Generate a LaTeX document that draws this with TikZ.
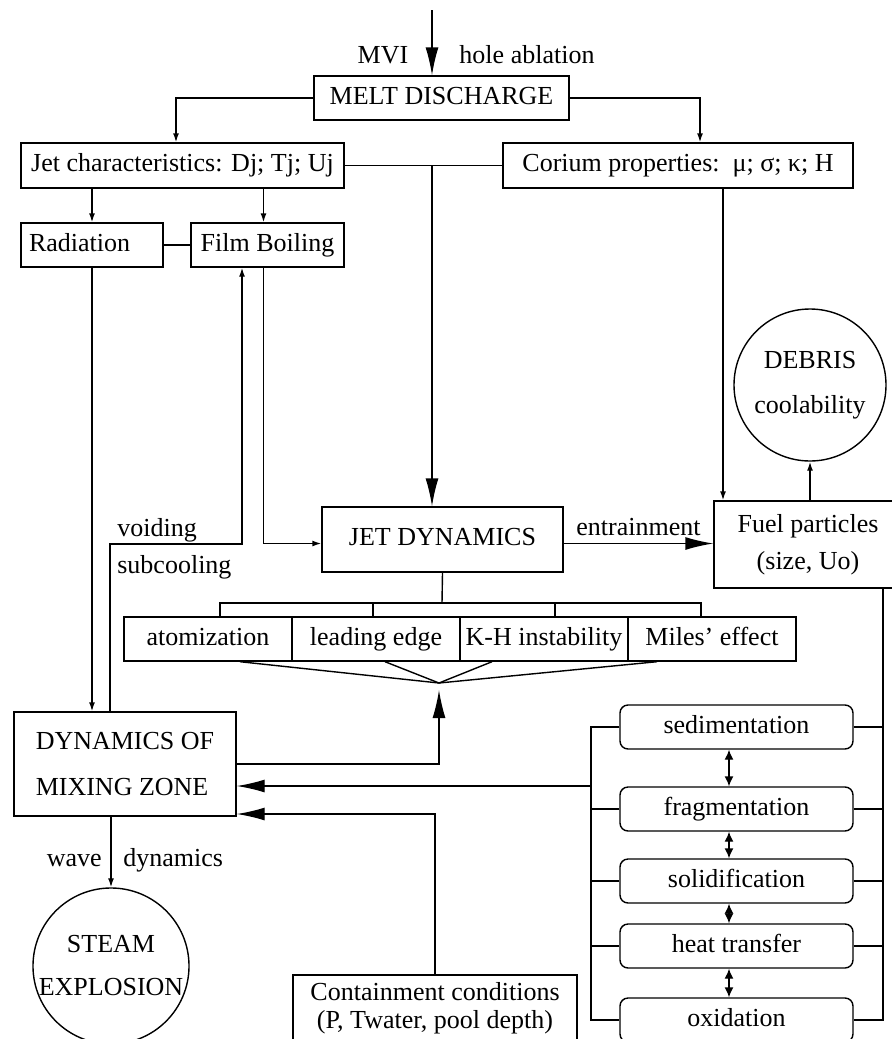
\documentclass[tikz,border=0pt]{standalone}
\usepackage{fontspec}
\setmainfont{Liberation Serif}
\usetikzlibrary{arrows.meta}

\tikzset{
  box/.style={draw, rectangle, inner sep=0pt, minimum height=22pt},
  line1/.style={text height=9pt, text depth=3pt},
  proc/.style={draw, rounded corners=4pt, inner sep=0pt, minimum width=116.5pt, minimum height=22pt, line1},
  ball/.style={draw, circle, inner sep=0pt, minimum size=76pt, align=center},
  tip/.style={-{Latex[length=4.5pt,width=3pt]}},
  bigtip/.style={-{Latex[length=14pt,width=6.5pt]}},
  twoway/.style={{Latex[length=5pt,width=4.5pt]}-{Latex[length=5pt,width=4.5pt]}}
}

\begin{document}
\begin{tikzpicture}[x=0.5pt, y=-0.5pt, line width=0.7pt, font=\fontsize{13}{18.5}\selectfont]
\useasboundingbox (0,0) rectangle (892,1039);
\clip (0,0) rectangle (892,1039);

% upper part
\node[box, line1, minimum width=127.5pt] (melt) at (441.5,98) {MELT DISCHARGE};
\node[box, line1, minimum width=161.5pt, minimum height=22.5pt] (jetc) at (182.5,165.5) {Jet characteristics: Dj; Tj; Uj};
\node[box, line1, minimum width=175pt, minimum height=22.5pt] (corium) at (678,165.5) {Corium properties:\ \ μ; σ; κ; H};
\node[box, line1, inner xsep=4pt, text width=63pt, align=left] (rad) at (92,245) {Radiation};
\node[box, line1, minimum width=76.5pt] (film) at (267.5,245) {Film Boiling};
\node (mvi) at (383,55) {MVI};
\node (hole) at (527,55) {hole ablation};
\coordinate (feed) at (432,10);

% middle part
\node[box, line1, minimum width=120.5pt, minimum height=32.5pt] (jetd) at (442.5,539.5) {JET DYNAMICS};
\node[box, minimum width=94pt, minimum height=43.5pt, align=center] (fuel) at (808,544.5) {Fuel particles\\(size, Uo)};
\node[ball] (debris) at (810,385) {DEBRIS\\[4pt]coolability};
\foreach \n/\x/\t in {atom/208/atomization, lead/376/leading edge, kh/544/K-H instability, miles/712/Miles’ effect}
  \node[box, line1, minimum width=84pt] (\n) at (\x,639) {\t};

% lower part
\node[box, minimum width=111pt, minimum height=52pt, align=left] (dyn) at (125,764) {DYNAMICS OF\\[4.5pt]MIXING ZONE};
\node[ball] (steam) at (111,966) {STEAM\\[3pt]EXPLOSION};
\node[box, minimum width=142pt, minimum height=33.5pt, align=center, font=\fontsize{13}{14}\selectfont] (cont) at (435,1008.5) {Containment conditions\\(P, Twater, pool depth)};
\foreach \n/\y/\t in {sed/727/sedimentation, frag/809/fragmentation, sol/881/solidification, heat/946/heat transfer, oxid/1020/oxidation}
  \node[proc] (\n) at (736.5,\y) {\t};

% connectors
\draw[bigtip] (feed) -- (feed |- melt.north);
\draw[tip] (melt.west) -| ([xshift=-3.25pt]jetc.north);
\draw[tip] (melt.east) -| ([xshift=11pt]corium.north);
\draw (jetc.east) -- (corium.west);
\coordinate (split) at (432,165.5);
\draw[bigtip] (split) -- (split |- jetd.north);
\draw[tip] (rad.north |- jetc.south) -- (rad.north);
\draw[tip] ([xshift=-2pt]film.north |- jetc.south) -- ([xshift=-2pt]film.north);
\draw (rad.east) -- (film.west);
\draw[tip] (rad.south) -- (rad.south |- dyn.north);

\coordinate (void) at (242,544);
\draw[tip] ([xshift=-7.5pt]dyn.north) |- (void) -- (void |- film.south);
\node[anchor=west] (voiding) at (110,530) {voiding};
\node[anchor=west] (subc) at (110,567) {subcooling};
\draw[tip] ([xshift=-2pt]film.south) |- ([yshift=-2pt]jetd.west);

\draw[bigtip] ([yshift=-2pt]jetd.east) -- node[above] (entr) {entrainment} ([yshift=-2pt]jetd.east -| fuel.west);
\draw[tip] ([xshift=22.5pt]corium.south) -- ([xshift=22.5pt]corium.south |- fuel.north);
\draw[tip] (debris.south |- fuel.north) -- (debris.south);

% jet break-up fan
\coordinate (bar) at (442,603);
\draw (jetd.south) -- (bar);
\draw ([xshift=6pt]atom.north) |- (bar) -| ([xshift=-5.5pt]miles.north);
\draw ([xshift=-1.5pt]lead.north) -- ([xshift=-1.5pt]lead.north |- bar);
\draw ([xshift=5.5pt]kh.north) -- ([xshift=5.5pt]kh.north |- bar);
\coordinate (meet) at (439,683);
\draw ([xshift=16pt]atom.south) -- (meet) -- ([xshift=-27.5pt]miles.south);
\draw ([xshift=4.5pt]lead.south) -- (meet) -- ([xshift=-26pt]kh.south);
\coordinate (back) at (439,690);
\draw[bigtip] (dyn.east) -| (back);

% particle processes
\coordinate (lbus) at (591,786);
\coordinate (rbus) at (883,588);
\draw (sed.west) -| (lbus) |- (oxid.west);
\foreach \n in {frag,sol,heat} \draw (\n.west) -- (\n.west -| lbus);
\draw[bigtip] (lbus) -- (lbus -| dyn.east);
\draw (rbus) |- (oxid.east);
\foreach \n in {sed,frag,sol,heat} \draw (\n.east) -- (\n.east -| rbus);
\foreach \a/\b in {sed/frag,frag/sol,sol/heat,heat/oxid}
  \draw[twoway] ([xshift=-3.75pt]\a.south) -- ([xshift=-3.75pt]\b.north);

\draw[bigtip] (cont.north) |- ([yshift=-25pt]dyn.east);
\draw[tip] (steam.north |- dyn.south) -- (steam.north);
\node[anchor=east] (wave) at (109,860) {wave};
\node[anchor=west] (wdyn) at (116,860) {dynamics};
\end{tikzpicture}
\end{document}
